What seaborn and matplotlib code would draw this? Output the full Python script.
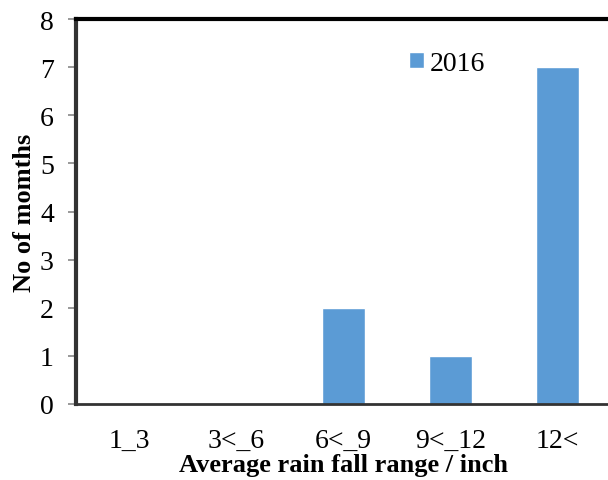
import matplotlib
matplotlib.use("Agg")
import matplotlib.pyplot as plt
import seaborn as sns
import pandas as pd

# data
ranges = ["1_3", "3<_6", "6<_9", "9<_12", "12<"]
months_2016 = [0, 0, 2, 1, 7]
year = "2016"

df = pd.DataFrame({"range": ranges, "months": months_2016, "year": year})

sns.set_theme(style="white")
plt.rcParams["font.family"] = ["Liberation Serif", "DejaVu Serif"]
plt.rcParams["text.color"] = "black"
plt.rcParams["axes.labelcolor"] = "black"
plt.rcParams["xtick.labelcolor"] = "black"
plt.rcParams["ytick.labelcolor"] = "black"

fig = plt.figure(figsize=(6.08, 4.81), dpi=100)
ax = fig.add_axes([76 / 608, 76 / 481, 535 / 608, 385 / 481])

sns.barplot(data=df, x="range", y="months", hue="year", palette=["#5B9BD5"],
            width=0.4, ax=ax, saturation=1)

ax.set_ylim(0, 8)
ax.set_xlim(-0.5, 4.5)
ax.set_yticks(range(0, 9))
ax.tick_params(axis="y", which="major", left=True, length=6, width=1.2,
               color="#888888", labelsize=20, pad=10)
ax.tick_params(axis="x", bottom=False, labelsize=20, pad=11)

ax.set_xlabel("Average rain fall range / inch", fontsize=19, fontweight="bold", labelpad=0)
ax.set_ylabel("No of momths", fontsize=19, fontweight="bold", labelpad=3)

for side in ["left", "top"]:
    ax.spines[side].set_visible(True)
    ax.spines[side].set_color("black")
    ax.spines[side].set_linewidth(3)
ax.spines["left"].set_color("#333333")
ax.spines["bottom"].set_color("#333333")
ax.spines["bottom"].set_linewidth(2)
ax.spines["right"].set_visible(False)

leg = ax.legend(loc="center left", bbox_to_anchor=(0.576, 0.885), frameon=False,
                fontsize=20, handlelength=0.55, handleheight=0.55, handletextpad=0.2)

fig.savefig("out.png", dpi=100)
